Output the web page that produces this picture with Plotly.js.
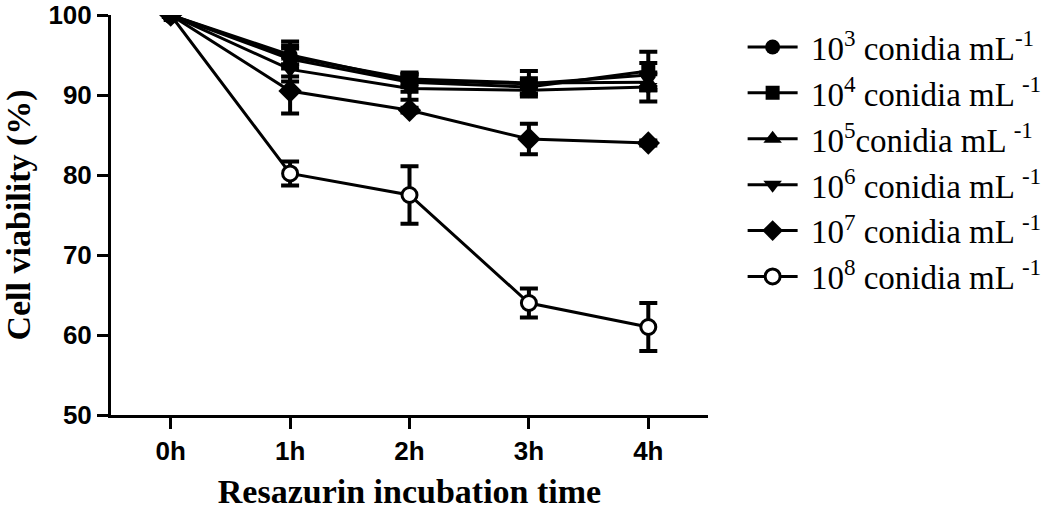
<!DOCTYPE html>
<html>
<head>
<meta charset="utf-8">
<script src="https://cdn.plot.ly/plotly-3.0.1.min.js"></script>
<style>html,body{margin:0;padding:0;background:#fff;}#chart{width:1059px;height:510px;}</style>
</head>
<body>
<div id="chart"></div>
<script>
// ---- data ----
var times = [0, 1, 2, 3, 4];
var timeLabels = ['0h', '1h', '2h', '3h', '4h'];
var seriesNames = [
  '10<sup>3</sup> conidia mL<sup>-1</sup>',
  '10<sup>4</sup> conidia mL <sup>-1</sup>',
  '10<sup>5</sup>conidia mL <sup>-1</sup>',
  '10<sup>6</sup> conidia mL <sup>-1</sup>',
  '10<sup>7</sup> conidia mL <sup>-1</sup>',
  '10<sup>8</sup> conidia mL <sup>-1</sup>'
];
var v1e3 = [100, 95.0, 91.8, 91.4, 92.5];
var e1e3 = [0, 1.2, 0.8, 1.6, 1.5];
var v1e4 = [100, 94.5, 91.6, 91.0, 93.0];
var e1e4 = [0, 2.2, 1.2, 0.8, 2.4];
var v1e5 = [100, 94.8, 92.0, 91.5, 91.6];
var e1e5 = [0, 1.0, 0.6, 0.6, 1.0];
var v1e6 = [100, 93.2, 90.8, 90.6, 91.0];
var e1e6 = [0, 1.5, 1.4, 0.5, 1.8];
var v1e7 = [100, 90.5, 88.1, 84.5, 84.0];
var e1e7 = [0, 2.8, 0.3, 1.9, 0.3];
var v1e8 = [100, 80.2, 77.5, 64.0, 61.0];
var e1e8 = [0, 1.5, 3.6, 1.8, 3.0];

var values = [v1e3, v1e4, v1e5, v1e6, v1e7, v1e8];
var errors = [e1e3, e1e4, e1e5, e1e6, e1e7, e1e8];
var symbols = ['circle', 'square', 'triangle-up', 'triangle-down', 'diamond', 'circle'];
var fills = ['black', 'black', 'black', 'black', 'black', 'white'];
var sizes = [15, 14, 16, 16, 18, 15];

var traces = values.map(function (v, i) {
  return {
    x: times,
    y: v,
    name: '\u00a0' + seriesNames[i],
    type: 'scatter',
    mode: 'lines+markers',
    line: {color: 'black', width: 3},
    marker: {symbol: symbols[i], size: sizes[i], color: fills[i],
             line: {color: 'black', width: i === 5 ? 3 : 0}},
    error_y: {type: 'data', array: errors[i], visible: true,
              color: 'black', thickness: 4, width: 9}
  };
});
// draw the 10^3 series last (on top), keep legend order 10^3 ... 10^8
traces.reverse();

var layout = {
  width: 1059, height: 510,
  margin: {l: 111, r: 346, t: 15, b: 95},
  paper_bgcolor: 'white', plot_bgcolor: 'white',
  showlegend: true,
  legend: {
    x: 1.058, xanchor: 'left', y: 0.99, yanchor: 'top',
    traceorder: 'reversed',
    font: {family: 'Liberation Serif, Times New Roman, serif', size: 33, color: 'black'},
    tracegroupgap: 0, itemwidth: 50, bgcolor: 'rgba(0,0,0,0)'
  },
  xaxis: {
    range: [-0.5, 4.5],
    tickvals: times, ticktext: timeLabels,
    showline: true, linecolor: 'black', linewidth: 3,
    ticks: 'outside', ticklen: 11, tickwidth: 3, tickcolor: 'black',
    showgrid: false, zeroline: false,
    tickfont: {family: 'Liberation Sans, Arial, sans-serif', size: 26, weight: 'bold', color: 'black'},
    title: {text: 'Resazurin incubation time', standoff: 16,
            font: {family: 'Liberation Serif, Times New Roman, serif', size: 34, weight: 'bold', color: 'black'}}
  },
  yaxis: {
    range: [50, 100],
    tickvals: [50, 60, 70, 80, 90, 100],
    showline: true, linecolor: 'black', linewidth: 3,
    ticks: 'outside', ticklen: 11, tickwidth: 3, tickcolor: 'black',
    showgrid: false, zeroline: false,
    tickfont: {family: 'Liberation Sans, Arial, sans-serif', size: 26, weight: 'bold', color: 'black'},
    title: {text: 'Cell viability (%)', standoff: 12,
            font: {family: 'Liberation Serif, Times New Roman, serif', size: 34, weight: 'bold', color: 'black'}}
  }
};

Plotly.newPlot('chart', traces, layout, {displayModeBar: false, staticPlot: true});
</script>
</body>
</html>
